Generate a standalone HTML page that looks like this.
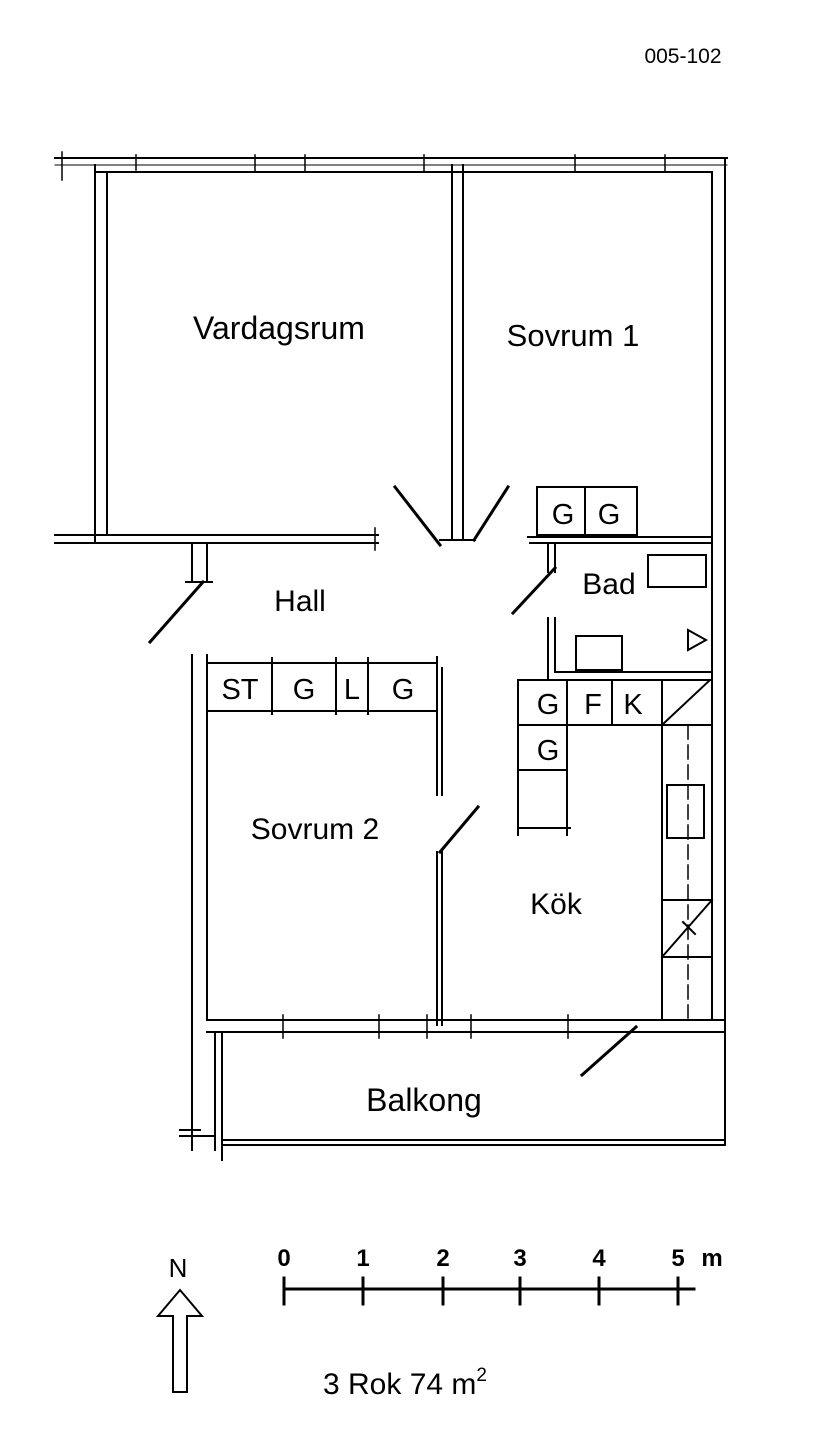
<!DOCTYPE html>
<html><head><meta charset="utf-8"><style>
html,body{margin:0;padding:0;background:#fff;}
svg{display:block;}
text{font-family:"Liberation Sans",Arial,sans-serif;fill:#000;}
</style></head><body>
<svg width="838" height="1453" viewBox="0 0 838 1453" xmlns="http://www.w3.org/2000/svg">
<g stroke="#000" stroke-width="2" fill="none" stroke-linecap="square">
<line x1="55" y1="158" x2="727" y2="158"/>
<line x1="55" y1="165" x2="727" y2="165" stroke-width="1"/>
<line x1="95" y1="172" x2="712" y2="172"/>
<line x1="62" y1="152" x2="62" y2="180" stroke-width="1.5"/>
<line x1="136" y1="155" x2="136" y2="170" stroke-width="1.5"/>
<line x1="255" y1="155" x2="255" y2="172" stroke-width="1.5"/>
<line x1="305" y1="155" x2="305" y2="172" stroke-width="1.5"/>
<line x1="424" y1="155" x2="424" y2="172" stroke-width="1.5"/>
<line x1="575" y1="155" x2="575" y2="172" stroke-width="1.5"/>
<line x1="665" y1="155" x2="665" y2="172" stroke-width="1.5"/>
<line x1="95" y1="165" x2="95" y2="543"/>
<line x1="107" y1="172" x2="107" y2="535"/>
<line x1="55" y1="535" x2="378" y2="535"/>
<line x1="55" y1="543" x2="378" y2="543"/>
<line x1="375" y1="528" x2="375" y2="550" stroke-width="1.5"/>
<line x1="452" y1="165" x2="452" y2="540"/>
<line x1="463" y1="165" x2="463" y2="540"/>
<line x1="440" y1="540" x2="475" y2="540"/>
<line x1="712" y1="172" x2="712" y2="1020"/>
<line x1="725" y1="158" x2="725" y2="1145"/>
<line x1="528" y1="537" x2="712" y2="537"/>
<line x1="530" y1="543" x2="712" y2="543"/>
<line x1="192" y1="543" x2="192" y2="582"/>
<line x1="207" y1="543" x2="207" y2="582"/>
<line x1="186" y1="582" x2="212" y2="582"/>
<line x1="150" y1="642" x2="203" y2="582" stroke-width="3"/>
<line x1="395" y1="487" x2="440" y2="545" stroke-width="3"/>
<line x1="508" y1="487" x2="474" y2="540" stroke-width="3"/>
<line x1="513" y1="613" x2="555" y2="568" stroke-width="3"/>
<line x1="440" y1="852" x2="478" y2="807" stroke-width="3"/>
<line x1="582" y1="1075" x2="636" y2="1027" stroke-width="3"/>
<rect x="537" y="487" width="100" height="48"/>
<line x1="585" y1="487" x2="585" y2="535"/>
<line x1="548" y1="543" x2="548" y2="572"/>
<line x1="555" y1="543" x2="555" y2="572"/>
<line x1="548" y1="618" x2="548" y2="680"/>
<line x1="555" y1="618" x2="555" y2="672"/>
<line x1="555" y1="672" x2="712" y2="672"/>
<rect x="648" y="555" width="58" height="32"/>
<rect x="576" y="636" width="46" height="34"/>
<polygon points="688,630 706,640 688,650"/>
<line x1="207" y1="663" x2="437" y2="663"/>
<line x1="207" y1="711" x2="435" y2="711"/>
<line x1="272" y1="658" x2="272" y2="714"/>
<line x1="336" y1="658" x2="336" y2="714"/>
<line x1="368" y1="658" x2="368" y2="714"/>
<line x1="437" y1="657" x2="437" y2="795"/>
<line x1="442" y1="668" x2="442" y2="795"/>
<line x1="192" y1="655" x2="192" y2="1150"/>
<line x1="207" y1="655" x2="207" y2="1020"/>
<line x1="437" y1="852" x2="437" y2="1025"/>
<line x1="442" y1="852" x2="442" y2="1025"/>
<line x1="207" y1="1020" x2="725" y2="1020"/>
<line x1="207" y1="1032" x2="725" y2="1032"/>
<line x1="283" y1="1015" x2="283" y2="1038" stroke-width="1.5"/>
<line x1="379" y1="1015" x2="379" y2="1038" stroke-width="1.5"/>
<line x1="427" y1="1015" x2="427" y2="1038" stroke-width="1.5"/>
<line x1="471" y1="1015" x2="471" y2="1038" stroke-width="1.5"/>
<line x1="568" y1="1015" x2="568" y2="1038" stroke-width="1.5"/>
<line x1="215" y1="1032" x2="215" y2="1150"/>
<line x1="222" y1="1032" x2="222" y2="1160"/>
<line x1="222" y1="1140" x2="725" y2="1140"/>
<line x1="222" y1="1145" x2="725" y2="1145"/>
<line x1="180" y1="1130" x2="200" y2="1130"/>
<line x1="180" y1="1136" x2="215" y2="1136"/>
<line x1="518" y1="680" x2="712" y2="680"/>
<line x1="518" y1="725" x2="712" y2="725"/>
<line x1="518" y1="680" x2="518" y2="835"/>
<line x1="567" y1="680" x2="567" y2="835"/>
<line x1="612" y1="680" x2="612" y2="725"/>
<line x1="662" y1="680" x2="662" y2="1018"/>
<line x1="662" y1="725" x2="710" y2="680"/>
<line x1="518" y1="770" x2="567" y2="770"/>
<line x1="518" y1="828" x2="570" y2="828"/>
<line x1="688" y1="725" x2="688" y2="1018" stroke-dasharray="14,6" stroke-width="1.5"/>
<rect x="667" y="785" width="37" height="53"/>
<line x1="662" y1="900" x2="712" y2="900"/>
<line x1="662" y1="957" x2="712" y2="957"/>
<line x1="662" y1="957" x2="712" y2="900"/>
<line x1="683" y1="922" x2="695" y2="934"/>
<line x1="284" y1="1289" x2="694" y2="1289" stroke-width="3"/>
<line x1="284" y1="1278" x2="284" y2="1304" stroke-width="3"/>
<line x1="363" y1="1278" x2="363" y2="1304" stroke-width="3"/>
<line x1="443" y1="1278" x2="443" y2="1304" stroke-width="3"/>
<line x1="520" y1="1278" x2="520" y2="1304" stroke-width="3"/>
<line x1="599" y1="1278" x2="599" y2="1304" stroke-width="3"/>
<line x1="678" y1="1278" x2="678" y2="1304" stroke-width="3"/>
<polygon points="180,1290 202,1316 187,1316 187,1392 173,1392 173,1316 158,1316"/>
</g>
<text x="683" y="63" font-size="21" text-anchor="middle">005-102</text>
<text x="279" y="339" font-size="32" text-anchor="middle">Vardagsrum</text>
<text x="573" y="346" font-size="31" text-anchor="middle">Sovrum 1</text>
<text x="300" y="611" font-size="30" text-anchor="middle">Hall</text>
<text x="609" y="594" font-size="30" text-anchor="middle">Bad</text>
<text x="315" y="839" font-size="30" text-anchor="middle">Sovrum 2</text>
<text x="556" y="914" font-size="30" text-anchor="middle">Kök</text>
<text x="424" y="1111" font-size="32" text-anchor="middle">Balkong</text>
<g font-size="29" text-anchor="middle">
<text x="240" y="699">ST</text><text x="304" y="699">G</text><text x="352" y="699">L</text><text x="403" y="699">G</text>
<text x="563" y="524">G</text><text x="609" y="524">G</text>
<text x="548" y="714">G</text><text x="593" y="714">F</text><text x="633" y="714">K</text>
<text x="548" y="760">G</text>
</g>
<g font-size="24" font-weight="bold" text-anchor="middle">
<text x="284" y="1266">0</text><text x="363" y="1266">1</text><text x="443" y="1266">2</text><text x="520" y="1266">3</text><text x="599" y="1266">4</text><text x="678" y="1266">5</text><text x="712" y="1266">m</text>
</g>
<text x="178" y="1277" font-size="26" text-anchor="middle">N</text>
<text x="323" y="1394" font-size="30">3 Rok 74 m<tspan font-size="19" dy="-13">2</tspan></text>
</svg>
</body></html>
